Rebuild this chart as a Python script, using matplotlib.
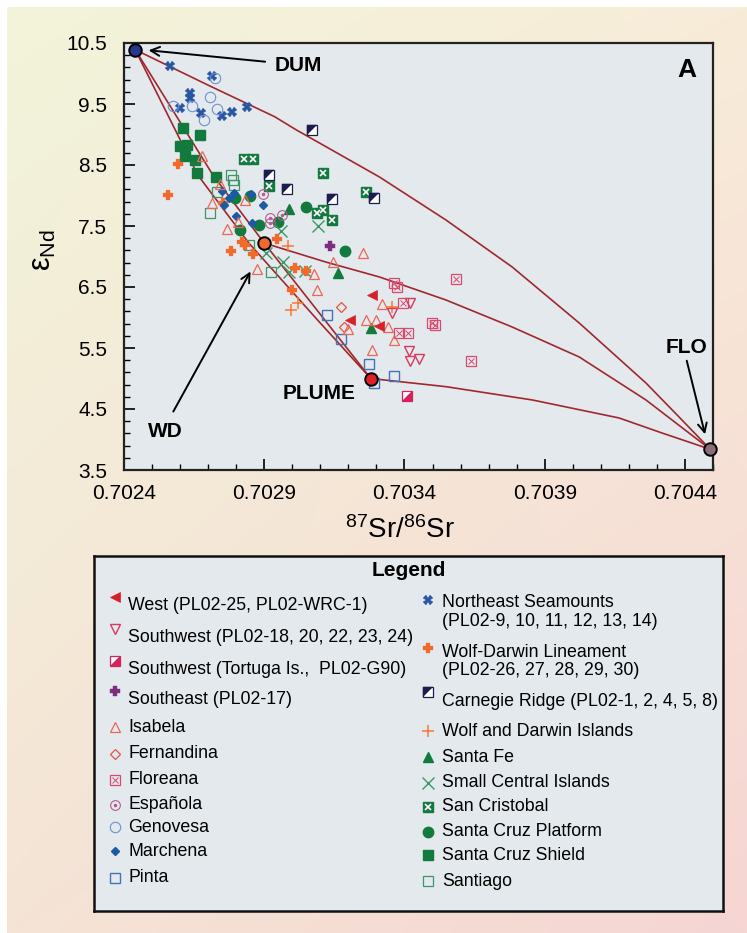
import numpy as np
import matplotlib.pyplot as plt
from matplotlib.ticker import FixedLocator

plt.rcParams['font.family'] = ['Liberation Sans', 'DejaVu Sans']

# ---- end members ----
dum_x, dum_y = 0.70244, 10.39
wd_x, wd_y = 0.70290, 7.22
plume_x, plume_y = 0.70328, 5.00
flo_x, flo_y = 0.70449, 3.84

# ---- mixing curves ----
dum_flo_x = [0.70244, 0.702699, 0.702937, 0.703013, 0.703311, 0.703548, 0.703784, 0.704023, 0.704261, 0.704379, 0.70449]
dum_flo_y = [10.39, 9.811, 9.292, 9.079, 8.303, 7.598, 6.828, 5.910, 4.926, 4.369, 3.84]
wd_flo_x = [0.70290, 0.703119, 0.703311, 0.703548, 0.703784, 0.704023, 0.704261, 0.70449]
wd_flo_y = [7.22, 6.910, 6.664, 6.287, 5.844, 5.353, 4.648, 3.84]
plume_flo_x = [0.70328, 0.703548, 0.703856, 0.704165, 0.704318, 0.70449]
plume_flo_y = [5.00, 4.866, 4.648, 4.353, 4.107, 3.84]
dum_wd_x = [0.70244, 0.702717, 0.70290]
dum_wd_y = [10.39, 8.336, 7.22]
dum_plume_x = [0.70244, 0.702663, 0.702845, 0.703090, 0.70328]
dum_plume_y = [10.39, 8.336, 7.221, 5.959, 5.00]
wd_plume_x = [0.70290, 0.70328]
wd_plume_y = [7.22, 5.00]

# ---- sample groups ----
west_x = [0.703285, 0.703207, 0.703309]
west_y = [6.377, 5.959, 5.861]
sw_x = [0.703356, 0.703420, 0.703415, 0.703421, 0.703452]
sw_y = [6.066, 6.233, 5.443, 5.290, 5.315]
tortuga_x = [0.703410]
tortuga_y = [4.716]
se_x = [0.703135]
se_y = [7.180]
isabela_x = [0.702677, 0.702742, 0.702713, 0.702831, 0.702808, 0.702767, 0.702875, 0.703077, 0.703088,
             0.703145, 0.703252, 0.703321, 0.703263, 0.703297, 0.703343, 0.703363, 0.703284, 0.703198]
isabela_y = [8.648, 8.189, 7.885, 7.934, 7.570, 7.459, 6.787, 6.713, 6.446,
             6.910, 7.057, 6.226, 5.959, 5.951, 5.844, 5.623, 5.475, 5.807]
fern_x = [0.703172, 0.703184]
fern_y = [6.177, 5.844]
flor_x = [0.703364, 0.703373, 0.703395, 0.703382, 0.703412, 0.703499, 0.703510, 0.703585, 0.703638]
flor_y = [6.570, 6.508, 6.230, 5.741, 5.741, 5.915, 5.885, 6.638, 5.279]
esp_x = [0.702897, 0.702920, 0.702920, 0.702962]
esp_y = [8.020, 7.623, 7.554, 7.675]
gen_x = [0.702724, 0.702706, 0.702575, 0.702641, 0.702732, 0.702685]
gen_y = [9.921, 9.620, 9.475, 9.467, 9.423, 9.230]
mar_x = [0.702749, 0.702792, 0.702854, 0.702897, 0.702756, 0.702799, 0.702858, 0.702774]
mar_y = [8.066, 8.049, 8.025, 7.839, 7.844, 7.664, 7.544, 7.959]
pinta_x = [0.703124, 0.703172, 0.703273, 0.703363, 0.703293]
pinta_y = [6.041, 5.648, 5.238, 5.041, 4.926]
ne_x = [0.702564, 0.702712, 0.702635, 0.702635, 0.702599, 0.702674, 0.702750, 0.702785, 0.702840]
ne_y = [10.128, 9.964, 9.675, 9.593, 9.439, 9.348, 9.308, 9.374, 9.446]
wdl_x = [0.702594, 0.702558, 0.702754, 0.702781, 0.702820, 0.702832, 0.702860, 0.702945, 0.703009, 0.703050, 0.702998]
wdl_y = [8.521, 8.003, 7.877, 7.082, 7.238, 7.189, 7.041, 7.287, 6.811, 6.762, 6.451]
carn_x = [0.703072, 0.702917, 0.702981, 0.703140, 0.703293]
carn_y = [9.077, 8.331, 8.102, 7.938, 7.959]
wdi_x = [0.702984, 0.702994, 0.703019, 0.703354]
wdi_y = [7.172, 6.123, 6.230, 6.164]
sfe_x = [0.702988, 0.703163, 0.703282]
sfe_y = [7.774, 6.725, 5.828]
sci_x = [0.702961, 0.703092, 0.702968, 0.702989, 0.702905, 0.703046]
sci_y = [7.410, 7.495, 6.918, 6.754, 7.057, 6.762]
scr_x = [0.702829, 0.702859, 0.702917, 0.703109, 0.703262, 0.703089, 0.703111, 0.703140]
scr_y = [8.592, 8.592, 8.156, 8.374, 8.062, 7.720, 7.766, 7.598]
scp_x = [0.702795, 0.702848, 0.702813, 0.702880, 0.702949, 0.703050, 0.703188]
scp_y = [7.959, 7.992, 7.434, 7.516, 7.570, 7.816, 7.090]
scs_x = [0.702612, 0.702670, 0.702599, 0.702623, 0.702617, 0.702654, 0.702659, 0.702727]
scs_y = [9.102, 8.984, 8.811, 8.820, 8.643, 8.590, 8.377, 8.303]
sant_x = [0.702781, 0.702789, 0.702792, 0.702730, 0.702707, 0.702845, 0.702923]
sant_y = [8.344, 8.246, 8.180, 8.057, 7.713, 7.189, 6.738]

# ---- colours / marker styles ----
RED = '#d8202a'
SWPINK = '#d63a5c'
TORT = '#d5215c'
PURPLE = '#7d2e7e'
ISA = '#ec6656'
FERN = '#e2553f'
FLOR = '#d9496c'
ESP = '#b75a90'
GEN = '#6f90cf'
MAR = '#1c5aa5'
PIN = '#4573b8'
NEB = '#2756a3'
WDL = '#f26a2b'
CARN = '#1d1c4e'
WDO = '#f47a30'
GREEN = '#127a3d'
SCIG = '#3a9866'
SANT = '#3f9468'
LINE = '#a0282d'

UL_TRI = [(-1, -1), (-1, 1), (1, 1)]
LR_TRI = [(-1, -1), (1, -1), (1, 1)]

st_west = [dict(marker='<', ms=7.5, mfc=RED, mec=RED, mew=0.5)]
st_sw = [dict(marker='v', ms=7, mfc='none', mec=SWPINK, mew=1)]
st_tort = [dict(marker='s', ms=6.5, mfc='white', mec=TORT, mew=0.9),
           dict(marker=LR_TRI, ms=6.5, mfc=TORT, mec=TORT, mew=0.3)]
st_se = [dict(marker='P', ms=6.5, mfc=PURPLE, mec=PURPLE, mew=0.3)]
st_isa = [dict(marker='^', ms=7.5, mfc='none', mec=ISA, mew=0.9)]
st_fern = [dict(marker='D', ms=4.8, mfc='none', mec=FERN, mew=0.9)]
st_flor = [dict(marker='s', ms=6.5, mfc='none', mec=FLOR, mew=0.9),
           dict(marker='x', ms=5, mec=FLOR, mew=0.7)]
st_esp = [dict(marker='o', ms=7, mfc='none', mec=ESP, mew=0.8),
          dict(marker='o', ms=1.5, mfc=ESP, mec=ESP)]
st_gen = [dict(marker='o', ms=7.5, mfc='none', mec=GEN, mew=0.8)]
st_mar = [dict(marker='D', ms=4.5, mfc=MAR, mec=MAR)]
st_pin = [dict(marker='s', ms=6.5, mfc='none', mec=PIN, mew=1)]
st_ne = [dict(marker='X', ms=7, mfc=NEB, mec=NEB, mew=0.2)]
st_wdl = [dict(marker='P', ms=6.5, mfc=WDL, mec=WDL, mew=0.2)]
st_carn = [dict(marker='s', ms=6.5, mfc='white', mec=CARN, mew=0.9),
           dict(marker=UL_TRI, ms=6.5, mfc=CARN, mec=CARN, mew=0.3)]
st_wdi = [dict(marker='+', ms=9, mec=WDO, mew=1.1)]
st_sfe = [dict(marker='^', ms=7.5, mfc=GREEN, mec=GREEN)]
st_sci = [dict(marker='x', ms=8, mec=SCIG, mew=1.0)]
st_scr = [dict(marker='s', ms=7, mfc=GREEN, mec=GREEN),
          dict(marker='x', ms=5, mec='white', mew=1.2)]
st_scp = [dict(marker='o', ms=7.5, mfc=GREEN, mec=GREEN)]
st_scs = [dict(marker='s', ms=7, mfc=GREEN, mec=GREEN)]
st_sant = [dict(marker='s', ms=6.5, mfc='none', mec=SANT, mew=0.9)]


def draw(axis, xs, ys, layers, z=3):
    for lay in layers:
        axis.plot(xs, ys, ls='none', zorder=z, clip_on=False, **lay)


fig = plt.figure(figsize=(7.47, 9.33), dpi=100)

# pastel gradient background
bg = fig.add_axes([7 / 747, 0, 740 / 747, 926 / 933], zorder=-10)
u = np.linspace(0, 1, 120)[None, :, None]
v = np.linspace(0, 1, 150)[:, None, None]
tl = np.array([242, 244, 218]) / 255
tr = np.array([248, 236, 217]) / 255
bl = np.array([245, 228, 214]) / 255
br = np.array([246, 213, 211]) / 255
grad = (1 - u) * (1 - v) * tl + u * (1 - v) * tr + (1 - u) * v * bl + u * v * br
bg.imshow(grad, aspect='auto', interpolation='bicubic')
bg.axis('off')

# ---- main panel ----
ax = fig.add_axes([124 / 747, 463 / 933, 589 / 747, 427 / 933])
ax.set_facecolor('#e3e9ed')
ax.set_xlim(0.7024, 0.7045)
ax.set_ylim(3.5, 10.5)

for cx, cy in [(dum_flo_x, dum_flo_y), (wd_flo_x, wd_flo_y), (plume_flo_x, plume_flo_y),
               (dum_wd_x, dum_wd_y), (dum_plume_x, dum_plume_y), (wd_plume_x, wd_plume_y)]:
    ax.plot(cx, cy, color=LINE, lw=1.2, zorder=2)

groups = [(sant_x, sant_y, st_sant), (scs_x, scs_y, st_scs), (scp_x, scp_y, st_scp),
          (scr_x, scr_y, st_scr), (sci_x, sci_y, st_sci), (sfe_x, sfe_y, st_sfe),
          (wdi_x, wdi_y, st_wdi), (carn_x, carn_y, st_carn), (wdl_x, wdl_y, st_wdl),
          (ne_x, ne_y, st_ne), (pinta_x, pinta_y, st_pin), (mar_x, mar_y, st_mar),
          (gen_x, gen_y, st_gen), (esp_x, esp_y, st_esp), (flor_x, flor_y, st_flor),
          (fern_x, fern_y, st_fern), (isabela_x, isabela_y, st_isa), (se_x, se_y, st_se),
          (tortuga_x, tortuga_y, st_tort), (sw_x, sw_y, st_sw), (west_x, west_y, st_west)]
for gx, gy, gs in groups:
    draw(ax, gx, gy, gs)

for ex, ey, col in [(dum_x, dum_y, '#26378e'), (wd_x, wd_y, '#f26a2b'),
                    (plume_x, plume_y, '#e11f2a'), (flo_x, flo_y, '#8d6b7b')]:
    ax.plot(ex, ey, 'o', ms=9, mfc=col, mec='black', mew=1.4, zorder=6, clip_on=False)

# labels / arrows
bold = dict(fontsize=15, fontweight='bold', color='black')
ax.text(0.702937, 10.131, 'DUM', ha='left', va='center', **bold)
ax.text(0.703094, 4.762, 'PLUME', ha='center', va='center', **bold)
ax.text(0.702549, 4.123, 'WD', ha='center', va='center', **bold)
ax.text(0.704404, 5.516, 'FLO', ha='center', va='center', **bold)
ax.text(0.704407, 10.057, 'A', ha='center', va='center', fontsize=19, fontweight='bold')
arr = dict(arrowstyle='->', color='black', lw=1.4, mutation_scale=16)
ax.annotate('', xy=(0.702478, 10.385), xytext=(0.702913, 10.189), arrowprops=arr)
ax.annotate('', xy=(0.702856, 6.795), xytext=(0.702571, 4.418), arrowprops=arr)
ax.annotate('', xy=(0.704474, 4.041), xytext=(0.704404, 5.336), arrowprops=arr)

xt = [0.7024, 0.7029, 0.7034, 0.7039, 0.7044]
ax.set_xticks(xt)
ax.set_xticklabels(['%.4f' % t for t in xt])
ax.xaxis.set_minor_locator(FixedLocator([0.7024 + i * 0.0001 for i in range(22)]))
yt = [3.5, 4.5, 5.5, 6.5, 7.5, 8.5, 9.5, 10.5]
ax.set_yticks(yt)
ax.set_yticklabels(['%.1f' % t for t in yt])
ax.yaxis.set_minor_locator(FixedLocator([3.5 + i * 0.2 for i in range(36)]))
ax.tick_params(which='major', direction='in', length=8, width=1.2, labelsize=15, pad=10)
ax.tick_params(which='minor', direction='in', length=4, width=1.0)
ax.tick_params(axis='y', which='major', pad=12)
for s in ax.spines.values():
    s.set_linewidth(1.6)
    s.set_color('#222222')

fig.text(400 / 747, 1 - 530 / 933, r'$\mathregular{^{87}}$Sr/$\mathregular{^{86}}$Sr',
         ha='center', va='center', fontsize=20)
fig.text(43 / 747, 1 - 250 / 933, r'ε$\mathregular{_{Nd}}$', ha='center', va='center',
         rotation=90, fontsize=22)

# ---- legend box ----
lg = fig.add_axes([94 / 747, 1 - 911 / 933, 629 / 747, 355 / 933])
lg.set_facecolor('#e3e9ed')
lg.set_xlim(0, 629)
lg.set_ylim(355, 0)
lg.set_xticks([])
lg.set_yticks([])
for s in lg.spines.values():
    s.set_linewidth(1.8)
    s.set_color('#111111')
lg.text(314.6, 14, 'Legend', ha='center', va='center', fontsize=15, fontweight='bold')

left_entries = [('West (PL02-25, PL02-WRC-1)', st_west, 41, 49.4),
                ('Southwest (PL02-18, 20, 22, 23, 24)', st_sw, 73, 81),
                ('Southwest (Tortuga Is.,  PL02-G90)', st_tort, 104.7, 113.6),
                ('Southeast (PL02-17)', st_se, 134.5, 143.4),
                ('Isabela', st_isa, 171.4, 171.4),
                ('Fernandina', st_fern, 198, 198),
                ('Floreana', st_flor, 223.8, 223.8),
                ('Española', st_esp, 248.8, 248.8),
                ('Genovesa', st_gen, 271.4, 271.4),
                ('Marchena', st_mar, 295.2, 295.2),
                ('Pinta', st_pin, 322, 322)]
right_entries = [('Northeast Seamounts\n(PL02-9, 10, 11, 12, 13, 14)', st_ne, 44, 56.2),
                 ('Wolf-Darwin Lineament\n(PL02-26, 27, 28, 29, 30)', st_wdl, 91.6, 105.6),
                 ('Carnegie Ridge (PL02-1, 2, 4, 5, 8)', st_carn, 136, 145),
                 ('Wolf and Darwin Islands', st_wdi, 175, 175),
                 ('Santa Fe', st_sfe, 201, 201),
                 ('Small Central Islands', st_sci, 226.7, 226.7),
                 ('San Cristobal', st_scr, 250.5, 250.5),
                 ('Santa Cruz Platform', st_scp, 275.5, 275.5),
                 ('Santa Cruz Shield', st_scs, 299.4, 299.4),
                 ('Santiago', st_sant, 325, 325)]
for entries, mx, tx in [(left_entries, 21, 34.5), (right_entries, 333.5, 348)]:
    for label, style, my, ty in entries:
        draw(lg, [mx], [my], style)
        lg.text(tx, ty, label, ha='left', va='center', fontsize=12.8, linespacing=1.12)

fig.savefig('out.png', dpi=100)
